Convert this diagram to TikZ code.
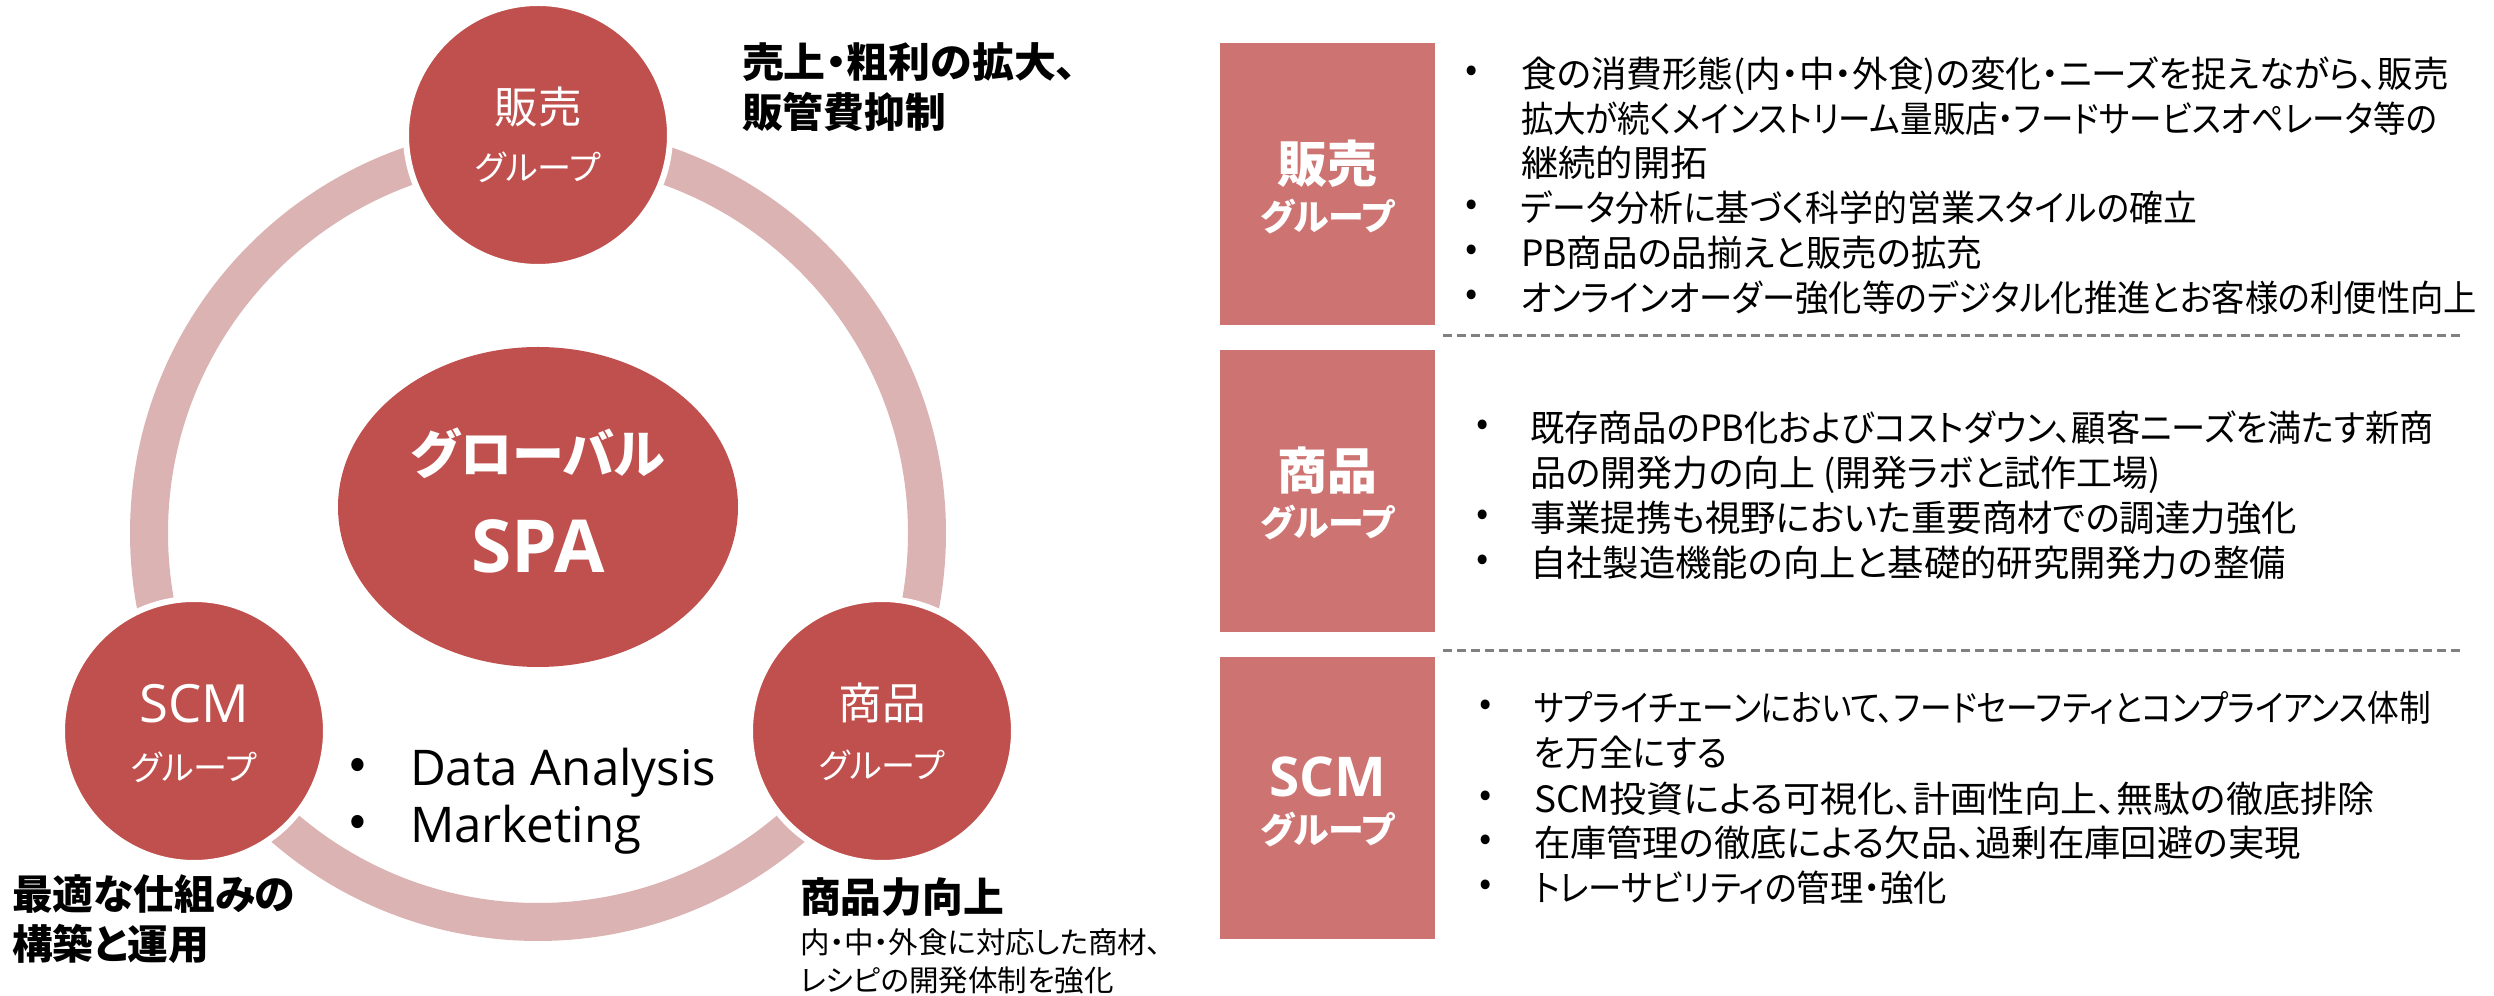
\documentclass[tikz,border=0pt]{standalone}
\usepackage{fontspec}
\usepackage{graphicx}
\setmainfont{Noto Sans CJK JP}[RawFeature=+palt]
\newfontfamily\osans{Open Sans}
\usetikzlibrary{shapes.geometric}
\definecolor{circred}{HTML}{C0504D}
\definecolor{ringcol}{HTML}{DCB3B3}
\definecolor{boxcol}{HTML}{CD7472}
\definecolor{dashgray}{HTML}{808080}
\newcommand\fitw[2]{\resizebox{#1}{\height}{#2}}
\begin{document}
\begin{tikzpicture}[x=0.1mm,y=-0.1mm,
  every node/.style={inner sep=0pt, outer sep=0pt},
  grp/.style={circle, fill=circred, draw=white, line width=0.6mm, minimum size=26.4mm},
  spa/.style={ellipse, fill=circred, minimum width=40mm, minimum height=32mm},
  gbox/.style={rectangle, fill=boxcol, minimum width=21.5mm, minimum height=28.2mm},
  clbig/.style={text=white, font=\fontsize{12.4}{14}\selectfont, text height=10.3pt, text depth=0.9pt},
  cllat/.style={text=white, font=\osans\fontsize{15}{17}\selectfont, text height=10.7pt, text depth=0pt},
  clsmall/.style={text=white, font=\fontsize{9.7}{12}\selectfont, text height=8.05pt, text depth=0.7pt},
  glob/.style={text=white, font=\bfseries\fontsize{14.8}{17}\selectfont, text height=12.3pt, text depth=1pt},
  spatxt/.style={text=white, font=\osans\bfseries\fontsize{20.8}{24}\selectfont, text height=14.8pt, text depth=0pt},
  bxbig/.style={text=white, font=\bfseries\fontsize{14.2}{17}\selectfont, text height=11.8pt, text depth=1pt},
  bxlat/.style={text=white, font=\osans\bfseries\fontsize{15.6}{18}\selectfont, text height=11.1pt, text depth=0pt},
  bxsmall/.style={text=white, font=\bfseries\fontsize{10.2}{12}\selectfont, text height=8.5pt, text depth=0.7pt},
  captxt/.style={anchor=west, font=\bfseries\fontsize{11.6}{14}\selectfont, text height=9.6pt, text depth=0.8pt},
  capsmall/.style={anchor=west, font=\fontsize{8.4}{10}\selectfont, text height=7pt, text depth=0.6pt},
  rt/.style={anchor=west, font=\fontsize{10.3}{12}\selectfont, text height=8.55pt, text depth=0.7pt},
  bul/.style={font=\fontsize{10.3}{12}\selectfont},
  lat/.style={anchor=base west, font=\osans\fontsize{14}{17}\selectfont},
  latbul/.style={font=\fontsize{14}{17}\selectfont},
  sepline/.style={draw=dashgray, line width=0.3mm, dash pattern=on 0.9mm off 0.5mm}
]
\useasboundingbox (0,0) rectangle (2494,996);

% ---------- left cycle ----------
\draw[ringcol, line width=3.8mm] (538,533) circle[radius=38.9mm];
\node[spa] (spa) at (538,507) {};
\node[grp] (sales) at (538,135) {};
\node[grp] (scm) at (194,731) {};
\node[grp] (prod) at (882,731) {};

\node[glob] (spaA) at (538,454) {グローバル};
\node[spatxt] (spaB) at (538,547) {SPA};

\node[clbig] (salesA) at (538,107) {販売};
\node[clsmall] (salesB) at (538,168) {グループ};
\node[cllat] (scmA) at (194,704) {SCM};
\node[clsmall] (scmB) at (194,768) {グループ};
\node[clbig] (prodA) at (882,703) {商品};
\node[clsmall] (prodB) at (882,766) {グループ};

\node[latbul] (da0) at (358,769) {•};
\node[lat] (da) at (410,786) {Data Analysis};
\node[latbul] (mk0) at (358,826) {•};
\node[lat] (mk) at (410,843) {Marketing};

\node[captxt] (c1a) at (742,62) {\fitw{33.5mm}{売上・粗利の拡大、}};
\node[captxt] (c1b) at (742,112) {販管費抑制};
\node[captxt] (c2a) at (12,894) {最適な仕組みの};
\node[captxt] (c2b) at (12,944) {構築と運用};
\node[captxt] (c3a) at (800,897) {商品力向上};
\node[capsmall] (c3b) at (800,942) {内・中・外食に対応した商材、};
\node[capsmall] (c3c) at (800,980) {レシピの開発体制を強化};

% ---------- right panel ----------
\node[gbox] (box1) at (1327.5,184) {};
\node[gbox] (box2) at (1327.5,491) {};
\node[gbox] (box3) at (1327.5,798.5) {};

\node[bxbig] (box1a) at (1327.5,164) {販売};
\node[bxsmall] (box1b) at (1327.5,217) {グループ};
\node[bxbig] (box2a) at (1327.5,471) {商品};
\node[bxsmall] (box2b) at (1327.5,523) {グループ};
\node[bxlat] (box3a) at (1327.5,777) {SCM};
\node[bxsmall] (box3b) at (1327.5,830) {グループ};

\coordinate (s1a) at (1443,336);
\coordinate (s1b) at (2460,336);
\coordinate (s2a) at (1443,651);
\coordinate (s2b) at (2460,651);
\draw[sepline] (s1a) -- (s1b);
\draw[sepline] (s2a) -- (s2b);

% box 1 text
\node[bul] (p1b1) at (1472,74) {•};
\node[rt] (p1l1) at (1521,74) {\fitw{92.8mm}{食の消費形態(内・中・外食)の変化・ニーズを捉えながら、販売}};
\node[rt] (p1l2) at (1521,119) {\fitw{91.6mm}{拡大が続くメインストリーム量販店・フードサービスオペレータ等の}};
\node[rt] (p1l3) at (1521,163) {\fitw{18.7mm}{継続的開拓}};
\node[bul] (p1b4) at (1472,208) {•};
\node[rt] (p1l4) at (1521,208) {\fitw{67.6mm}{データ分析に基づく科学的営業スタイルの確立}};
\node[bul] (p1b5) at (1472,253) {•};
\node[rt] (p1l5) at (1521,253) {\fitw{46.1mm}{PB商品の品揃えと販売の拡充}};
\node[bul] (p1b6) at (1472,298) {•};
\node[rt] (p1l6) at (1521,298) {\fitw{95.6mm}{オンラインオーダー強化等のデジタル化推進とお客様の利便性向上}};

% box 2 text
\node[bul] (p2b1) at (1483,428) {•};
\node[rt] (p2l1) at (1530,428) {\fitw{90.4mm}{既存商品のPB化およびコストダウン、顧客ニーズを満たす新商}};
\node[rt] (p2l2) at (1530,473) {\fitw{63.1mm}{品の開発力の向上 (開発ラボと試作工場)}};
\node[bul] (p2b3) at (1483,518) {•};
\node[rt] (p2l3) at (1530,518) {\fitw{76.7mm}{事業提携も視野においた重要商材での調達力強化}};
\node[bul] (p2b4) at (1483,563) {•};
\node[rt] (p2l4) at (1530,563) {\fitw{75.6mm}{自社製造機能の向上と基礎的研究開発力の整備}};

% box 3 text
\node[bul] (p3b1) at (1486,708) {•};
\node[rt] (p3l1) at (1534,708) {\fitw{89.7mm}{サプライチェーンにおいて、フードセーフティとコンプライアンス体制}};
\node[rt] (p3l2) at (1534,753) {\fitw{19.3mm}{を万全にする}};
\node[bul] (p3b3) at (1486,799) {•};
\node[rt] (p3l3) at (1534,799) {\fitw{84mm}{SCM投資による可視化、計画性向上、無駄の徹底排除}};
\node[bul] (p3b4) at (1486,843) {•};
\node[rt] (p3l4) at (1534,843) {\fitw{76.7mm}{在庫管理の徹底による欠品、過剰在庫回避の実現}};
\node[bul] (p3b5) at (1486,888) {•};
\node[rt] (p3l5) at (1534,888) {\fitw{41.3mm}{トレーサビリティの管理・強化}};
\end{tikzpicture}
\end{document}
